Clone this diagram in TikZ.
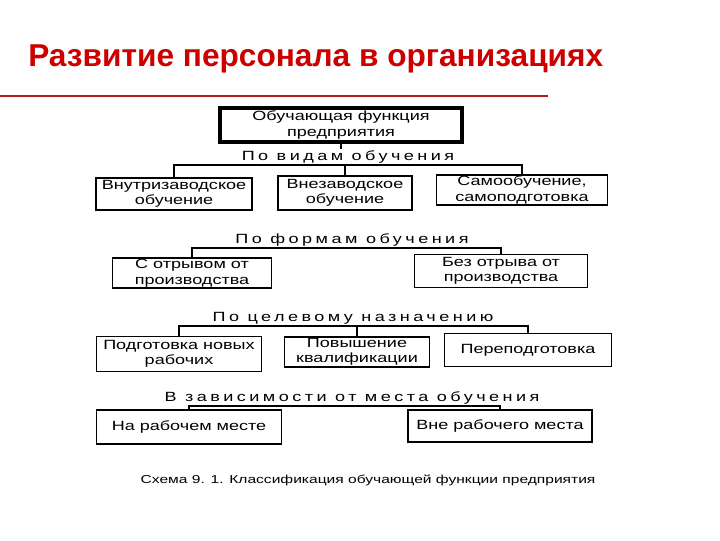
\documentclass[tikz,border=0pt]{standalone}
\usepackage{fontspec}
\setmainfont{Liberation Sans}
\newfontfamily\boxfont[FakeStretch=1.35]{Liberation Sans}
\newfontfamily\labfont[FakeStretch=1.35,LetterSpace=26]{Liberation Sans}
\definecolor{titlered}{RGB}{205,0,0}
\definecolor{rulered}{RGB}{175,30,30}

\begin{document}
\begin{tikzpicture}
  [x=0.025cm, y=-0.025cm,
   box/.style={draw, line width=0.8pt, align=center, inner sep=0pt, font=\boxfont\fontsize{9.5}{11}\selectfont},
   lab/.style={inner sep=1pt, text height=7pt, text depth=2pt, font=\labfont\fontsize{9.5}{10.5}\selectfont},
   link/.style={line width=0.8pt}]
  \useasboundingbox (0,0) rectangle (720,540);

  % title and rule
  \node (title) [anchor=west, inner sep=0pt, text=titlered, font=\bfseries\fontsize{22.5}{25}\selectfont] at (28,59) {Развитие персонала в организациях};
  \coordinate (ruleL) at (0,96);
  \coordinate (ruleR) at (548,96);
  \draw[rulered, line width=1.5pt] (ruleL) -- (ruleR);

  % top box
  \node (top) [box, line width=2.5pt, minimum width=6.05cm, minimum height=0.85cm] at (341,125) {Обучающая функция\\предприятия};

  % by kind
  \node (lab1) [lab] at (348,157) {По видам обучения};
  \node (b11) [box, minimum width=3.9cm, minimum height=0.8cm] at (174,194) {Внутризаводское\\обучение};
  \node (b12) [box, minimum width=3.35cm, minimum height=0.85cm] at (345,193) {Внезаводское\\обучение};
  \node (b13) [box, minimum width=4.275cm, minimum height=0.75cm] at (522,190) {Самообучение,\\самоподготовка};

  % by form
  \node (lab2) [lab] at (352,240) {По формам обучения};
  \node (b21) [box, minimum width=3.975cm, minimum height=0.75cm] at (192,273) {С отрывом от\\производства};
  \node (b22) [box, minimum width=4.325cm, minimum height=0.825cm] at (501,271) {Без отрыва от\\производства};

  % by purpose
  \node (lab3) [lab] at (353,318) {По целевому назначению};
  \node (b31) [box, minimum width=4.125cm, minimum height=0.875cm] at (179,354) {Подготовка новых\\рабочих};
  \node (b32) [box, minimum width=3.625cm, minimum height=0.75cm] at (357,352) {Повышение\\квалификации};
  \node (b33) [box, minimum width=4.175cm, minimum height=0.825cm] at (528,350) {Переподготовка};

  % by place
  \node (lab4) [lab] at (352,398) {В зависимости от места обучения};
  \node (b41) [box, minimum width=4.625cm, minimum height=0.85cm] at (189,427) {На рабочем месте};
  \node (b42) [box, minimum width=4.6cm, minimum height=0.8cm] at (500,426) {Вне рабочего места};

  \node (caption) [inner sep=0pt, font=\boxfont\fontsize{8.2}{10}\selectfont] at (368,480) {Схема 9. 1. Классификация обучающей функции предприятия};

  \draw[link] (top.south) -- (top.south |- lab1.north);
  \draw[link] (b11.north) |- (lab1.south) -| (b13.north);
  \draw[link] (b12.north |- lab1.south) -- (b12.north);
  \draw[link] (b21.north) |- (lab2.south) -| (b22.north);
  \draw[link] (b31.north) |- (lab3.south) -| (b33.north);
  \draw[link] (b32.north |- lab3.south) -- (b32.north);
  \draw[link] (b41.north) |- (lab4.south) -| (b42.north);
\end{tikzpicture}
\end{document}
